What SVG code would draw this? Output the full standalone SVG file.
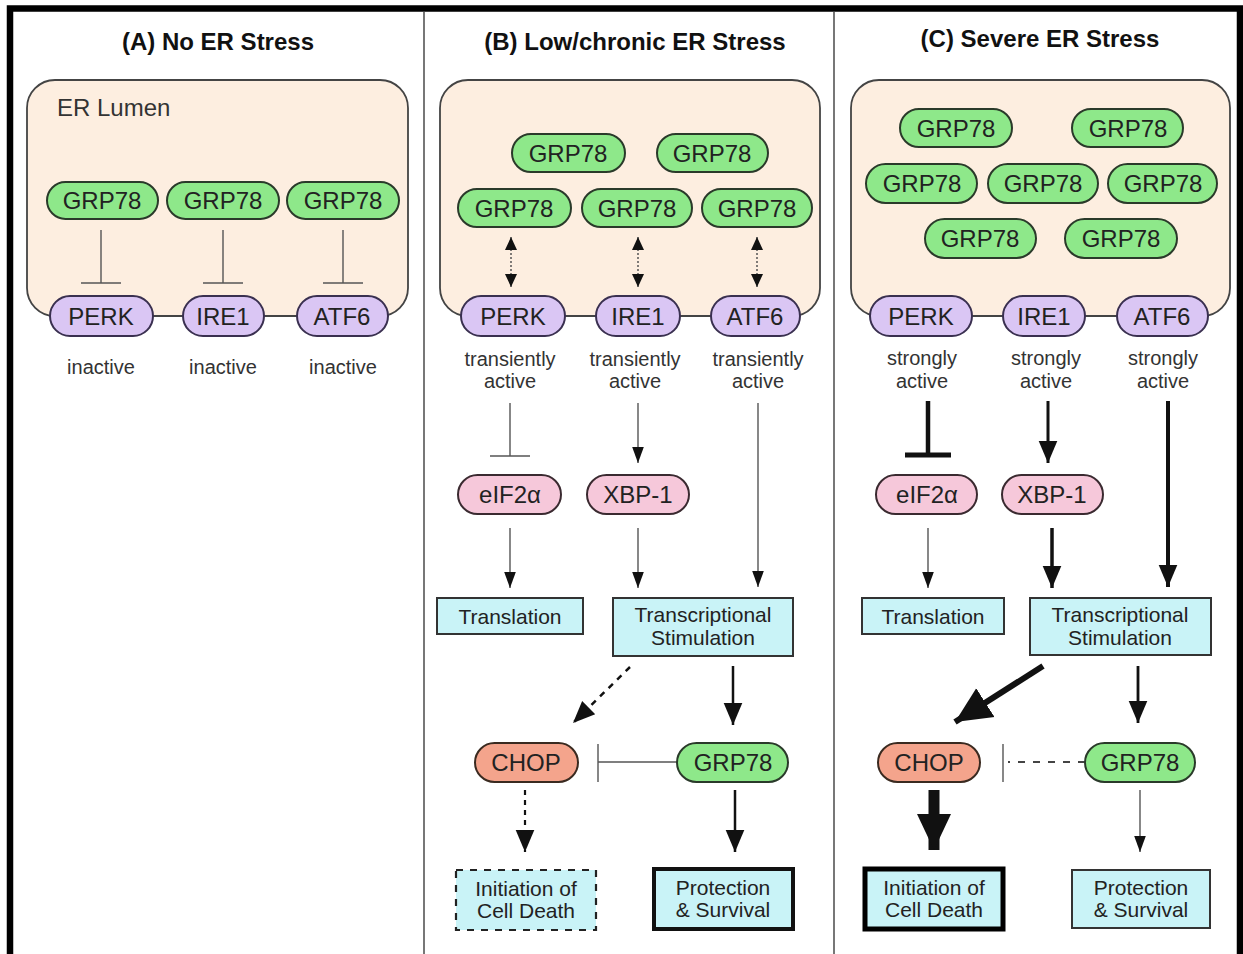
<svg xmlns="http://www.w3.org/2000/svg" width="1243" height="954" viewBox="0 0 1243 954">
<defs>
<style>
text{font-family:"Liberation Sans",Arial,sans-serif;fill:#222;text-anchor:middle}
.title{font-size:24px;font-weight:bold;fill:#111}
.pill{font-size:24px}
.lbl{font-size:20px;fill:#333}
.box{font-size:21px}
.lumen{fill:#fdeee0;stroke:#444;stroke-width:1.8}
.grp{fill:#8ee88a;stroke:#2a3a2a;stroke-width:2}
.sens{fill:#dac6f4;stroke:#3a3050;stroke-width:2}
.pink{fill:#f6c8da;stroke:#3a2a30;stroke-width:2}
.chop{fill:#f4a48c;stroke:#3a2a20;stroke-width:2}
.cyan{fill:#c9f3f7;stroke:#333;stroke-width:2}
.ln{stroke:#555;stroke-width:1.4;fill:none}
.blk{stroke:#111;fill:none}
</style>
<marker id="ah" markerUnits="userSpaceOnUse" markerWidth="16" markerHeight="22" refX="22" refY="8" orient="auto" viewBox="0 0 22 16"><path d="M0,0 L22,8 L0,16 z" fill="#111"/></marker>
<marker id="ahm" markerUnits="userSpaceOnUse" markerWidth="22" markerHeight="28" refX="26" refY="11" orient="auto" viewBox="0 0 26 22"><path d="M0,0 L26,11 L0,22 z" fill="#111"/></marker>
<marker id="ahb" markerUnits="userSpaceOnUse" markerWidth="36" markerHeight="36" refX="36" refY="17" orient="auto" viewBox="0 0 36 34"><path d="M0,0 L36,17 L0,34 z" fill="#111"/></marker>
<marker id="ahs" markerUnits="userSpaceOnUse" markerWidth="13" markerHeight="13" refX="13" refY="6" orient="auto-start-reverse" viewBox="0 0 13 12"><path d="M0,0 L13,6 L0,12 z" fill="#111"/></marker>
</defs>
<rect width="1243" height="954" fill="#fff"/>
<g id="frame">
<path d="M10,954 V8.5 H1240 V954" fill="none" stroke="#000" stroke-width="6.5"/>
<line x1="424" y1="12" x2="424" y2="954" stroke="#777" stroke-width="2"/>
<line x1="834" y1="12" x2="834" y2="954" stroke="#777" stroke-width="2"/>
</g>

<g id="panelA">
<text class="title" x="218" y="50">(A) No ER Stress</text>
<rect class="lumen" x="27" y="80" width="381" height="236" rx="28"/>
<text x="57" y="116" style="font-size:24px;text-anchor:start;fill:#333">ER Lumen</text>
</g>
<g id="panelB">
<text class="title" x="635" y="50">(B) Low/chronic ER Stress</text>
<rect class="lumen" x="440" y="80" width="380" height="236" rx="28"/>
</g>
<g id="panelC">
<text class="title" x="1040" y="47">(C) Severe ER Stress</text>
<rect class="lumen" x="851" y="80" width="379" height="236" rx="28"/>
</g>

<g id="connectors">
<!-- A inhibitions -->
<path class="ln" d="M101,230 V283 M81,283 H121 M223,230 V283 M203,283 H243 M343,230 V283 M323,283 H363"/>
<!-- B double arrows -->
<g stroke="#555" stroke-width="1.5" stroke-dasharray="2 2">
<line x1="511" y1="237" x2="511" y2="287" marker-start="url(#ahs)" marker-end="url(#ahs)"/>
<line x1="638" y1="237" x2="638" y2="287" marker-start="url(#ahs)" marker-end="url(#ahs)"/>
<line x1="757" y1="237" x2="757" y2="287" marker-start="url(#ahs)" marker-end="url(#ahs)"/>
</g>
<!-- B lower -->
<path class="ln" d="M510,403 V456 M490,456 H530"/>
<line class="ln" x1="638" y1="403" x2="638" y2="463" marker-end="url(#ah)"/>
<line class="ln" x1="758" y1="403" x2="758" y2="587" marker-end="url(#ah)"/>
<line class="ln" x1="510" y1="528" x2="510" y2="588" marker-end="url(#ah)"/>
<line class="ln" x1="638" y1="528" x2="638" y2="588" marker-end="url(#ah)"/>
<line class="blk" x1="630" y1="667" x2="573" y2="723" stroke-width="2.5" stroke-dasharray="6 6" marker-end="url(#ahm)"/>
<line class="blk" x1="733" y1="666" x2="733" y2="725" stroke-width="2.5" marker-end="url(#ahm)"/>
<path class="ln" d="M677,762 H598 M598,744 V782"/>
<line class="blk" x1="525" y1="790" x2="525" y2="852" stroke-width="2.2" stroke-dasharray="5 5" marker-end="url(#ahm)"/>
<line class="blk" x1="735" y1="790" x2="735" y2="852" stroke-width="2.5" marker-end="url(#ahm)"/>
<!-- C lower -->
<path class="blk" d="M928,401 V455" stroke-width="4.5"/>
<path class="blk" d="M905,455 H951" stroke-width="5"/>
<line class="blk" x1="1048" y1="401" x2="1048" y2="463" stroke-width="3" marker-end="url(#ahm)"/>
<line class="blk" x1="1168" y1="401" x2="1168" y2="587" stroke-width="4" marker-end="url(#ahm)"/>
<line class="ln" x1="928" y1="528" x2="928" y2="588" marker-end="url(#ah)"/>
<line class="blk" x1="1052" y1="528" x2="1052" y2="588" stroke-width="3.5" marker-end="url(#ahm)"/>
<line class="blk" x1="1043" y1="666" x2="955" y2="722" stroke-width="6" marker-end="url(#ahb)"/>
<line class="blk" x1="1138" y1="666" x2="1138" y2="723" stroke-width="2.8" marker-end="url(#ahm)"/>
<path d="M1085,762 H1008" stroke="#444" stroke-width="1.8" stroke-dasharray="7 8" fill="none"/>
<path class="ln" d="M1003,744 V782"/>
<line class="blk" x1="934" y1="790" x2="934" y2="850" stroke-width="11" marker-end="url(#ahb)"/>
<line class="ln" x1="1140" y1="790" x2="1140" y2="852" marker-end="url(#ah)"/>
</g>

<!-- Panel A nodes -->
<g id="A_grp1"><rect class="grp" x="47" y="182" width="111" height="37" rx="18.5"/><text class="pill" x="102" y="209">GRP78</text></g>
<g id="A_grp2"><rect class="grp" x="167" y="182" width="112" height="37" rx="18.5"/><text class="pill" x="223" y="209">GRP78</text></g>
<g id="A_grp3"><rect class="grp" x="287" y="182" width="112" height="37" rx="18.5"/><text class="pill" x="343" y="209">GRP78</text></g>
<g id="A_perk"><rect class="sens" x="50" y="296" width="103" height="40" rx="20"/><text class="pill" x="101" y="325">PERK</text><text class="lbl" x="101" y="374">inactive</text></g>
<g id="A_ire1"><rect class="sens" x="183" y="296" width="81" height="40" rx="20"/><text class="pill" x="223" y="325">IRE1</text><text class="lbl" x="223" y="374">inactive</text></g>
<g id="A_atf6"><rect class="sens" x="297" y="296" width="91" height="40" rx="20"/><text class="pill" x="342" y="325">ATF6</text><text class="lbl" x="343" y="374">inactive</text></g>

<!-- Panel B nodes -->
<g id="B_grp1"><rect class="grp" x="512" y="134" width="113" height="38" rx="19"/><text class="pill" x="568" y="162">GRP78</text></g>
<g id="B_grp2"><rect class="grp" x="657" y="134" width="111" height="38" rx="19"/><text class="pill" x="712" y="162">GRP78</text></g>
<g id="B_grp3"><rect class="grp" x="458" y="189" width="113" height="38" rx="19"/><text class="pill" x="514" y="217">GRP78</text></g>
<g id="B_grp4"><rect class="grp" x="582" y="189" width="110" height="38" rx="19"/><text class="pill" x="637" y="217">GRP78</text></g>
<g id="B_grp5"><rect class="grp" x="702" y="189" width="110" height="38" rx="19"/><text class="pill" x="757" y="217">GRP78</text></g>
<g id="B_perk"><rect class="sens" x="461" y="296" width="104" height="40" rx="20"/><text class="pill" x="513" y="325">PERK</text><text class="lbl" x="510" y="366">transiently</text><text class="lbl" x="510" y="388">active</text></g>
<g id="B_ire1"><rect class="sens" x="596" y="296" width="84" height="40" rx="20"/><text class="pill" x="638" y="325">IRE1</text><text class="lbl" x="635" y="366">transiently</text><text class="lbl" x="635" y="388">active</text></g>
<g id="B_atf6"><rect class="sens" x="711" y="296" width="89" height="40" rx="20"/><text class="pill" x="755" y="325">ATF6</text><text class="lbl" x="758" y="366">transiently</text><text class="lbl" x="758" y="388">active</text></g>
<g id="B_eif2a"><rect class="pink" x="458" y="475" width="103" height="39" rx="19.5"/><text class="pill" x="510" y="503">eIF2α</text></g>
<g id="B_xbp1"><rect class="pink" x="587" y="475" width="102" height="39" rx="19.5"/><text class="pill" x="638" y="503">XBP-1</text></g>
<g id="B_trans"><rect class="cyan" x="437" y="598" width="146" height="36"/><text class="box" x="510" y="624">Translation</text></g>
<g id="B_ts"><rect class="cyan" x="613" y="598" width="180" height="58"/><text class="box" x="703" y="622">Transcriptional</text><text class="box" x="703" y="645">Stimulation</text></g>
<g id="B_chop"><rect class="chop" x="475" y="743" width="103" height="39" rx="19.5"/><text class="pill" x="526" y="771">CHOP</text></g>
<g id="B_grp78"><rect class="grp" x="677" y="743" width="111" height="39" rx="19.5"/><text class="pill" x="733" y="771">GRP78</text></g>
<g id="B_death"><rect x="456" y="870" width="140" height="60" fill="#c9f3f7" stroke="#222" stroke-width="2.2" stroke-dasharray="7 7"/><text class="box" x="526" y="896">Initiation of</text><text class="box" x="526" y="918">Cell Death</text></g>
<g id="B_prot"><rect x="654" y="869" width="139" height="60" fill="#c9f3f7" stroke="#111" stroke-width="4"/><text class="box" x="723" y="895">Protection</text><text class="box" x="723" y="917">&amp; Survival</text></g>

<!-- Panel C nodes -->
<g id="C_grp1"><rect class="grp" x="900" y="109" width="112" height="38" rx="19"/><text class="pill" x="956" y="137">GRP78</text></g>
<g id="C_grp2"><rect class="grp" x="1072" y="109" width="111" height="38" rx="19"/><text class="pill" x="1128" y="137">GRP78</text></g>
<g id="C_grp3"><rect class="grp" x="866" y="164" width="111" height="39" rx="19.5"/><text class="pill" x="922" y="192">GRP78</text></g>
<g id="C_grp4"><rect class="grp" x="988" y="164" width="110" height="39" rx="19.5"/><text class="pill" x="1043" y="192">GRP78</text></g>
<g id="C_grp5"><rect class="grp" x="1108" y="164" width="109" height="39" rx="19.5"/><text class="pill" x="1163" y="192">GRP78</text></g>
<g id="C_grp6"><rect class="grp" x="925" y="219" width="111" height="39" rx="19.5"/><text class="pill" x="980" y="247">GRP78</text></g>
<g id="C_grp7"><rect class="grp" x="1065" y="219" width="112" height="39" rx="19.5"/><text class="pill" x="1121" y="247">GRP78</text></g>
<g id="C_perk"><rect class="sens" x="870" y="296" width="102" height="40" rx="20"/><text class="pill" x="921" y="325">PERK</text><text class="lbl" x="922" y="365">strongly</text><text class="lbl" x="922" y="388">active</text></g>
<g id="C_ire1"><rect class="sens" x="1003" y="296" width="82" height="40" rx="20"/><text class="pill" x="1044" y="325">IRE1</text><text class="lbl" x="1046" y="365">strongly</text><text class="lbl" x="1046" y="388">active</text></g>
<g id="C_atf6"><rect class="sens" x="1117" y="296" width="91" height="40" rx="20"/><text class="pill" x="1162" y="325">ATF6</text><text class="lbl" x="1163" y="365">strongly</text><text class="lbl" x="1163" y="388">active</text></g>
<g id="C_eif2a"><rect class="pink" x="876" y="475" width="101" height="39" rx="19.5"/><text class="pill" x="927" y="503">eIF2α</text></g>
<g id="C_xbp1"><rect class="pink" x="1002" y="475" width="101" height="39" rx="19.5"/><text class="pill" x="1052" y="503">XBP-1</text></g>
<g id="C_trans"><rect class="cyan" x="862" y="598" width="142" height="36"/><text class="box" x="933" y="624">Translation</text></g>
<g id="C_ts"><rect class="cyan" x="1030" y="598" width="181" height="57"/><text class="box" x="1120" y="622">Transcriptional</text><text class="box" x="1120" y="645">Stimulation</text></g>
<g id="C_chop"><rect class="chop" x="878" y="743" width="102" height="39" rx="19.5"/><text class="pill" x="929" y="771">CHOP</text></g>
<g id="C_grp78"><rect class="grp" x="1085" y="743" width="110" height="39" rx="19.5"/><text class="pill" x="1140" y="771">GRP78</text></g>
<g id="C_death"><rect x="865" y="869" width="138" height="60" fill="#c9f3f7" stroke="#000" stroke-width="5"/><text class="box" x="934" y="895">Initiation of</text><text class="box" x="934" y="917">Cell Death</text></g>
<g id="C_prot"><rect class="cyan" x="1072" y="870" width="138" height="58"/><text class="box" x="1141" y="895">Protection</text><text class="box" x="1141" y="917">&amp; Survival</text></g>
</svg>
